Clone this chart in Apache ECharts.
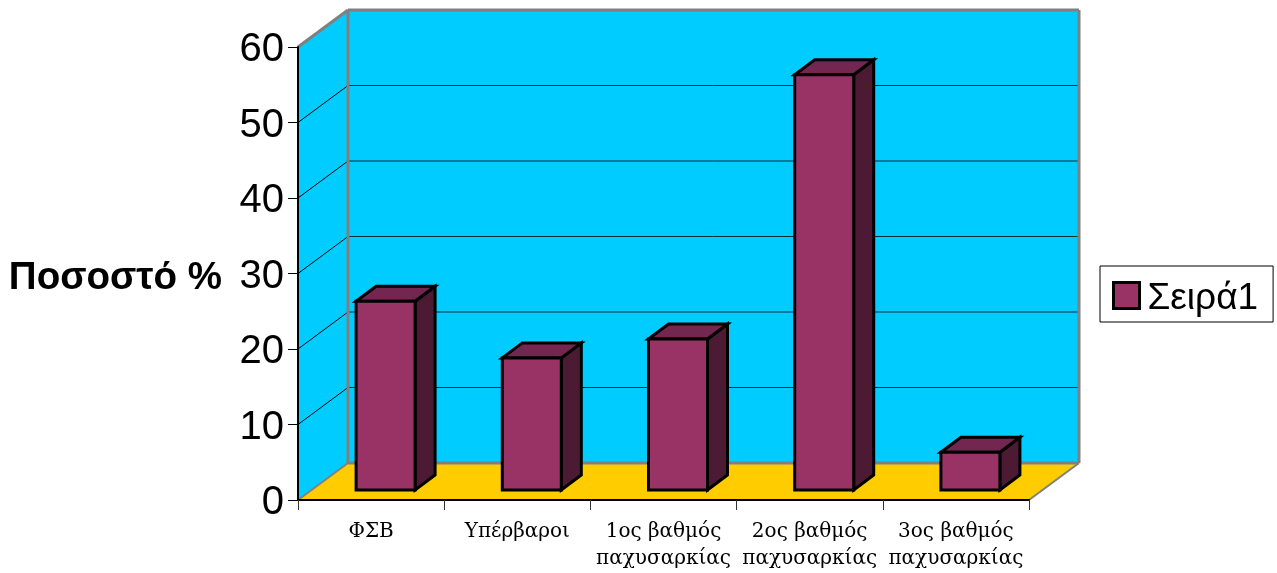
<!DOCTYPE html>
<html>
<head>
<meta charset="utf-8">
<style>html,body{margin:0;padding:0;background:#fff}#chart{width:1277px;height:573px}</style>
<script src="https://cdn.jsdelivr.net/npm/echarts@6/dist/echarts.min.js"></script>
</head>
<body>
<div id="chart"></div>
<script>
// Share of people per weight class
const categories = ['ΦΣΒ', 'Υπέρβαροι', '1ος βαθμός\nπαχυσαρκίας', '2ος βαθμός\nπαχυσαρκίας', '3ος βαθμός\nπαχυσαρκίας'];
const values = [25, 17.5, 20, 55, 5];
const yTicks = [0, 10, 20, 30, 40, 50, 60];
const seriesName = 'Σειρά1';
const axisTitle = 'Ποσοστό %';

// Pseudo-3D geometry, in pixels
const ROOM_DX = 50, ROOM_DY = -37;
const BAR_DX = 20, BAR_DY = -15;
const BAR_WIDTH = 59, BAR_SHIFT_X = 14.5, BAR_SHIFT_Y = -10;

const WALL = '#00CCFF', FLOOR = '#FFCC00', EDGE = '#808080';
const FRONT = '#993366', TOP = '#732650', SIDE = '#4D1A33';

function poly(points, fill, stroke, lineWidth) {
  return {
    type: 'polygon',
    shape: { points: points },
    style: { fill: fill, stroke: stroke || 'none', lineWidth: lineWidth || 0, lineJoin: 'miter' }
  };
}
function line(a, b, stroke, lineWidth) {
  return {
    type: 'line',
    shape: { x1: a[0], y1: a[1], x2: b[0], y2: b[1] },
    style: { stroke: stroke, lineWidth: lineWidth }
  };
}

// Side wall, back wall, floor and their grid lines
function renderRoom(params, api) {
  const c = params.coordSys;
  const x0 = c.x, x1 = c.x + c.width, yBottom = c.y + c.height, yTop = c.y;
  const bx0 = x0 + ROOM_DX, bx1 = x1 + ROOM_DX;
  const byTop = yTop + ROOM_DY, byBottom = yBottom + ROOM_DY;
  const children = [
    poly([[x0, yTop], [bx0, byTop], [bx0, byBottom], [x0, yBottom]], WALL),
    poly([[bx0, byTop], [bx1, byTop], [bx1, byBottom], [bx0, byBottom]], WALL),
    poly([[x0, yBottom], [bx0, byBottom], [bx1, byBottom], [x1, yBottom]], FLOOR)
  ];
  yTicks.forEach(function (v) {
    if (v === 0 || v === 60) return;
    const y = api.coord([0, v])[1];
    children.push(line([x0, y], [bx0, y + ROOM_DY], '#000', 1));
    children.push(line([bx0, y + ROOM_DY], [bx1, y + ROOM_DY], '#002A38', 1));
  });
  children.push(line([x0, yTop], [bx0, byTop], EDGE, 3));
  children.push(line([bx0, byTop], [bx1, byTop], EDGE, 3));
  children.push(line([bx0, byTop], [bx0, byBottom], EDGE, 3));
  children.push(line([bx1, byTop], [bx1, byBottom], EDGE, 3));
  children.push(line([bx0, byBottom], [bx1, byBottom], EDGE, 3));
  children.push(line([x0, yBottom], [bx0, byBottom], EDGE, 2));
  children.push(line([x1, yBottom], [bx1, byBottom], EDGE, 2));
  return { type: 'group', children: children };
}

// One box per category: front, top and right faces
function renderBar(params, api) {
  const p = api.coord([api.value(0), api.value(1)]);
  const zero = api.coord([api.value(0), 0]);
  const l = p[0] + BAR_SHIFT_X - BAR_WIDTH / 2;
  const r = l + BAR_WIDTH;
  const t = p[1] + BAR_SHIFT_Y;
  const b = zero[1] + BAR_SHIFT_Y;
  return {
    type: 'group',
    children: [
      poly([[r, t], [r + BAR_DX, t + BAR_DY], [r + BAR_DX, b + BAR_DY], [r, b]], SIDE, '#000', 3),
      poly([[l, t], [l + BAR_DX, t + BAR_DY], [r + BAR_DX, t + BAR_DY], [r, t]], TOP, '#000', 3),
      poly([[l, t], [r, t], [r, b], [l, b]], FRONT, '#000', 3)
    ]
  };
}

const chart = echarts.init(document.getElementById('chart'), null, { renderer: 'canvas' });
chart.setOption({
  animation: false,
  backgroundColor: '#fff',
  grid: { left: 298, top: 47, width: 731, height: 453 },
  legend: {
    data: [{ name: seriesName, icon: 'rect' }],
    left: 1100,
    top: 266,
    padding: [8, 15, 5, 12],
    itemWidth: 26,
    itemHeight: 26,
    itemGap: 0,
    borderColor: '#000',
    borderWidth: 1,
    backgroundColor: '#fff',
    itemStyle: { color: FRONT, borderColor: '#000', borderWidth: 3 },
    formatter: '{t|{name}}',
    textStyle: {
      rich: { t: { fontFamily: 'Liberation Sans', fontSize: 37, color: '#000', padding: [6, 0, 0, 3], lineHeight: 36 } }
    }
  },
  xAxis: {
    type: 'category',
    data: categories,
    z: 5,
    axisLine: { lineStyle: { color: '#000', width: 2 } },
    axisTick: { show: true, length: 10, alignWithLabel: false, lineStyle: { color: '#333', width: 1 } },
    axisLabel: {
      interval: 0,
      margin: 18,
      fontFamily: 'DejaVu Serif',
      fontSize: 20,
      lineHeight: 27,
      color: '#000',
      hideOverlap: false
    }
  },
  yAxis: {
    type: 'value',
    min: 0,
    max: 60,
    interval: 10,
    z: 5,
    name: '{t|' + axisTitle + '}',
    nameLocation: 'middle',
    nameRotate: 0,
    nameGap: 76,
    nameTextStyle: {
      align: 'right',
      verticalAlign: 'middle',
      rich: {
        t: { fontFamily: 'Liberation Sans', fontSize: 38.5, fontWeight: 'bold', color: '#000', padding: [10, 0, 0, 0] }
      }
    },
    axisLine: { show: true, lineStyle: { color: '#000', width: 2 } },
    axisTick: { show: true, length: 10, lineStyle: { color: '#000', width: 1 } },
    splitLine: { show: false },
    axisLabel: {
      margin: 14,
      formatter: '{n|{value}}',
      rich: { n: { fontFamily: 'Liberation Sans', fontSize: 40, color: '#000', padding: [6, 0, 0, 0] } }
    }
  },
  series: [
    {
      type: 'custom',
      name: 'room',
      silent: true,
      z: 1,
      renderItem: renderRoom,
      data: [[0, 0]],
      encode: { x: 0, y: 1 }
    },
    {
      type: 'custom',
      name: seriesName,
      z: 3,
      itemStyle: { color: FRONT },
      renderItem: renderBar,
      data: values.map(function (v, i) { return [i, v]; }),
      encode: { x: 0, y: 1 }
    }
  ]
});
</script>
</body>
</html>
